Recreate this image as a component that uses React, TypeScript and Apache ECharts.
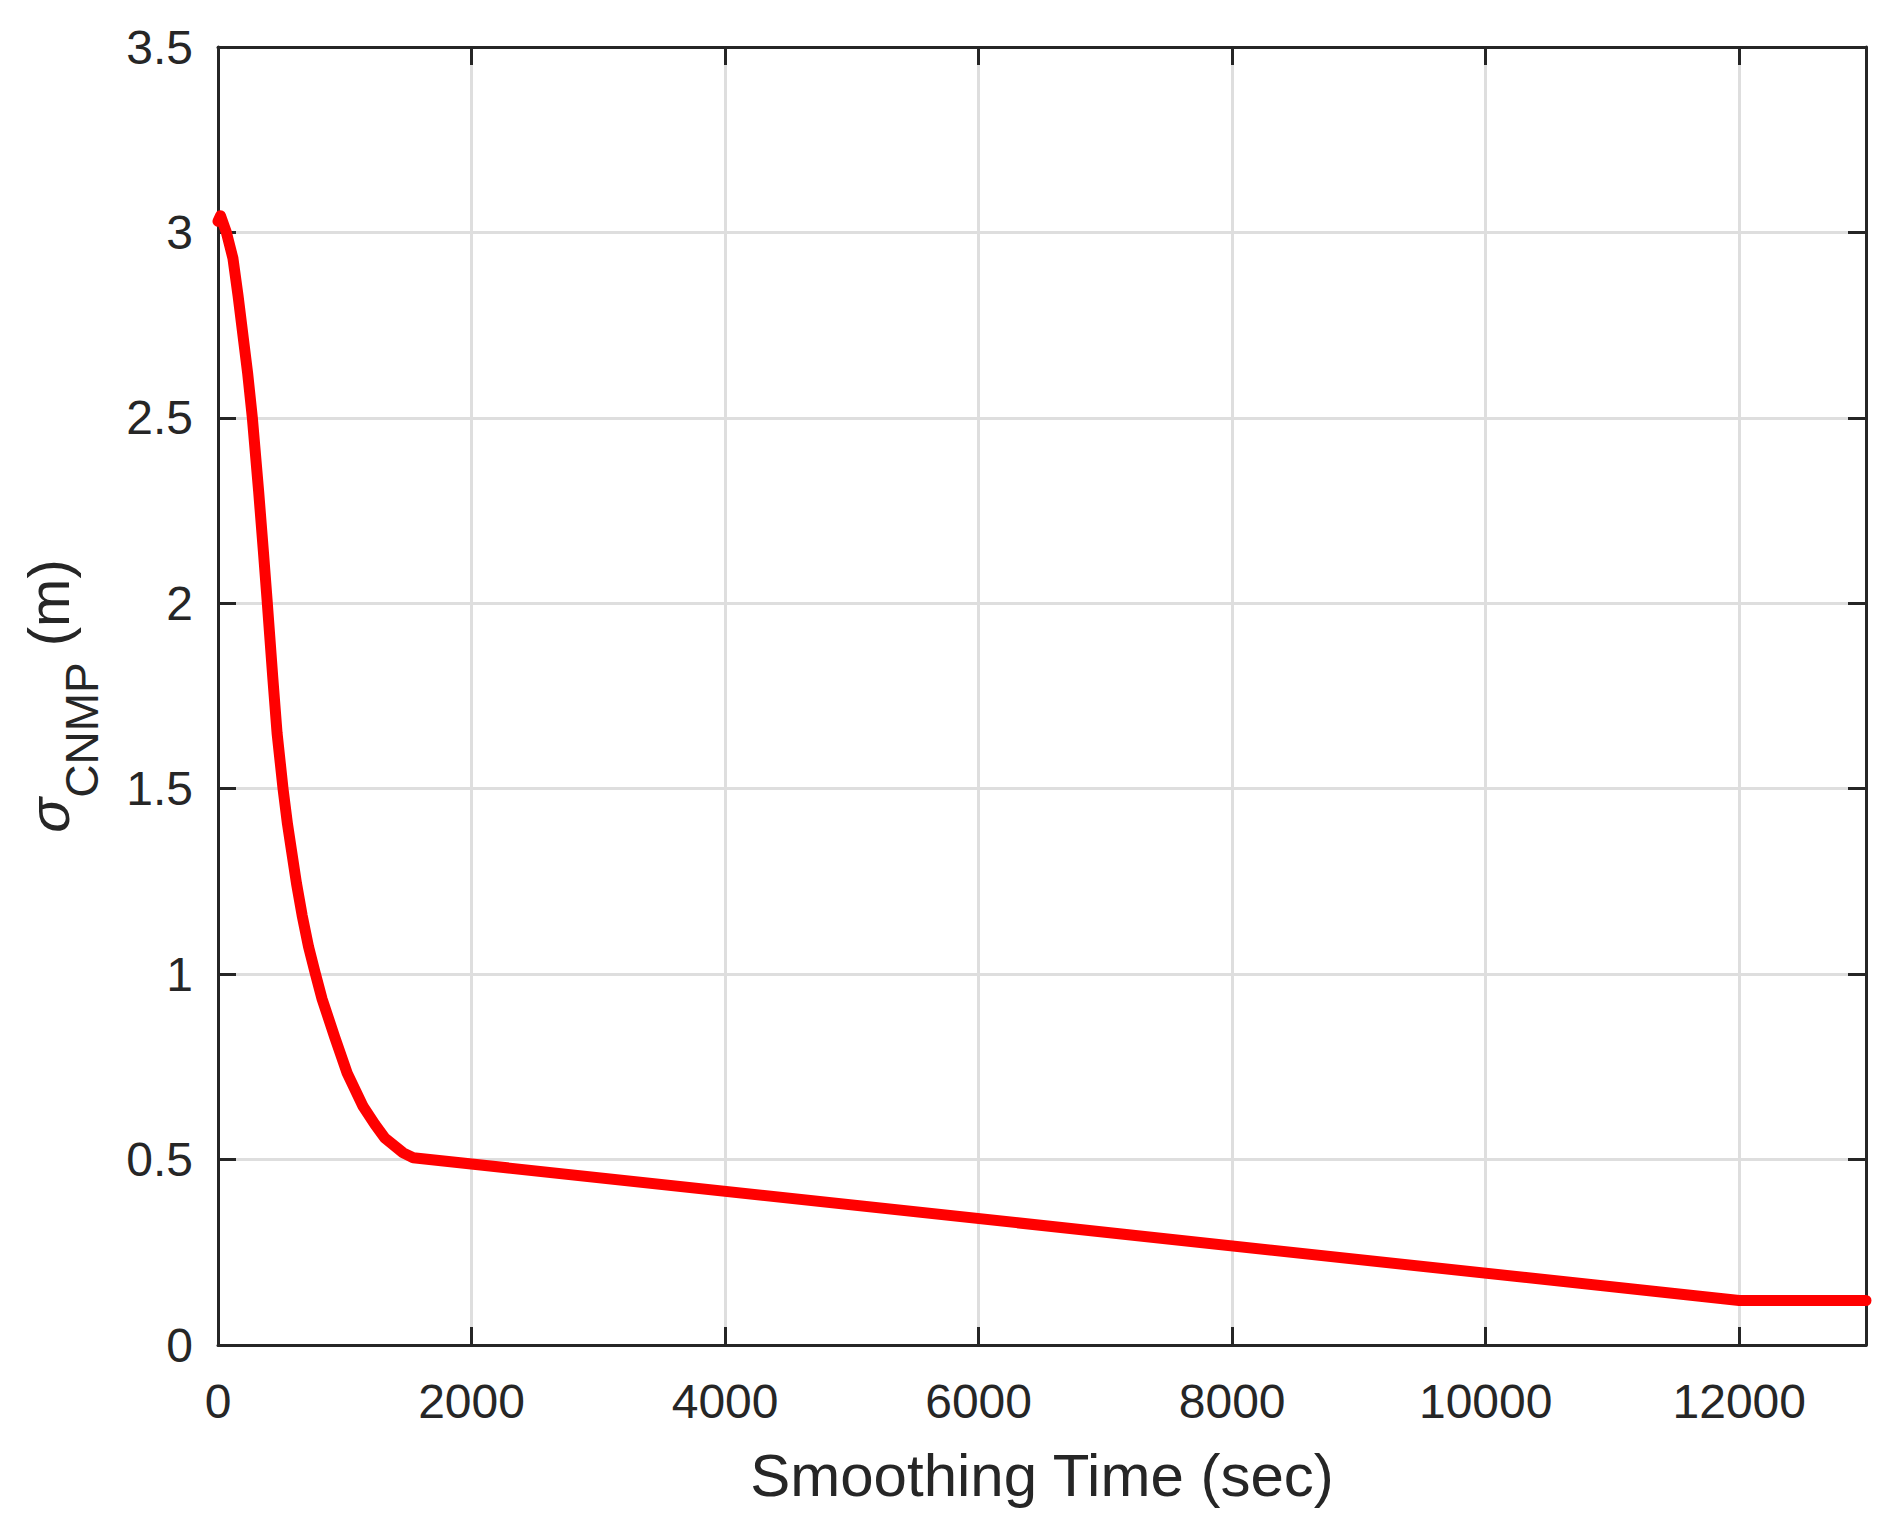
import { useEffect, useRef } from 'react';
import * as echarts from 'echarts';

// smoothing time (sec) and sigma_CNMP (m)
const timeSec = [
  0, 20, 66, 118, 158, 234, 271, 321, 358, 387, 432, 466, 513, 548, 579, 619, 664, 714, 766, 821,
  921, 1019, 1145, 1237, 1316, 1461, 1540, 12000, 13000,
];
const sigmaCnmp = [
  3.03, 3.045, 3.0, 2.93, 2.83, 2.62, 2.5, 2.3, 2.14, 2.01, 1.8, 1.65, 1.5, 1.405, 1.335, 1.245, 1.158, 1.074, 1.004, 0.933,
  0.83, 0.733, 0.643, 0.595, 0.558, 0.518, 0.505, 0.12, 0.12,
];

const xRange = [0, 13000];
const xStep = 2000;
const yRange = [0, 3.5];
const yStep = 0.5;

const ink = '#262626';
const gridColor = '#dedede';
const font = "'Liberation Sans', Arial, sans-serif";

const App: React.FC = () => {
  const divRef = useRef<HTMLDivElement | null>(null);

  useEffect(() => {
    if (!divRef.current) return;
    const chart = echarts.init(divRef.current, null, { renderer: 'svg' });

    const axisLine = { show: true, onZero: false, lineStyle: { color: ink, width: 3 } };
    const ticks = { show: true, inside: true, length: 18, lineStyle: { color: ink, width: 3 } };
    const grid = { show: true, lineStyle: { color: gridColor, width: 3 } };
    const plain = (v: number) => String(v);

    chart.setOption({
      animation: false,
      backgroundColor: '#ffffff',
      grid: { left: 218, right: 29, top: 47, bottom: 186 },
      xAxis: [
        {
          type: 'value',
          position: 'bottom',
          min: xRange[0],
          max: xRange[1],
          interval: xStep,
          axisLine,
          axisTick: ticks,
          splitLine: grid,
          axisLabel: {
            margin: 32,
            fontSize: 48,
            color: ink,
            fontFamily: font,
            showMaxLabel: false,
            formatter: plain,
          },
          name: 'Smoothing Time (sec)',
          nameLocation: 'middle',
          nameGap: 100,
          nameTextStyle: { fontSize: 60, color: ink, fontFamily: font },
        },
        {
          type: 'value',
          position: 'top',
          min: xRange[0],
          max: xRange[1],
          interval: xStep,
          axisLine,
          axisTick: ticks,
          splitLine: { show: false },
          axisLabel: { show: false },
        },
      ],
      yAxis: [
        {
          type: 'value',
          position: 'left',
          min: yRange[0],
          max: yRange[1],
          interval: yStep,
          axisLine,
          axisTick: ticks,
          splitLine: grid,
          axisLabel: { margin: 25, fontSize: 48, color: ink, fontFamily: font, formatter: plain },
          name: '{s|σ}{sub|CNMP}{n| (m)}',
          nameLocation: 'middle',
          nameGap: 113,
          nameTextStyle: {
            color: ink,
            fontFamily: font,
            rich: {
              s: { fontSize: 58, fontStyle: 'italic', color: ink, fontFamily: font },
              sub: { fontSize: 46, color: ink, fontFamily: font, padding: [68, 0, 0, 0] },
              n: { fontSize: 58, color: ink, fontFamily: font },
            },
          },
        },
        {
          type: 'value',
          position: 'right',
          min: yRange[0],
          max: yRange[1],
          interval: yStep,
          axisLine,
          axisTick: ticks,
          splitLine: { show: false },
          axisLabel: { show: false },
        },
      ],
      series: [
        {
          type: 'line',
          xAxisIndex: 0,
          yAxisIndex: 0,
          showSymbol: false,
          data: timeSec.map((t, i) => [t, sigmaCnmp[i]]),
          lineStyle: { color: '#ff0000', width: 11, join: 'round', cap: 'round' },
          z: 3,
        },
      ],
    });

    return () => chart.dispose();
  }, []);

  return (
    <div
      ref={divRef}
      style={{ position: 'absolute', left: 0, top: 0, width: 1895, height: 1531, background: '#fff' }}
    />
  );
};

export default App;
